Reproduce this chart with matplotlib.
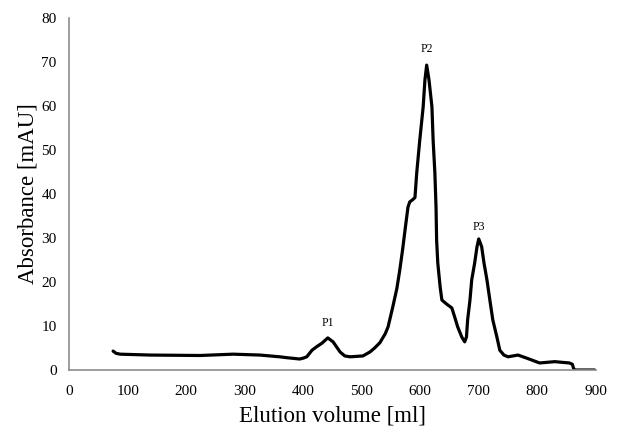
import matplotlib
matplotlib.use("Agg")
import matplotlib.pyplot as plt

# Chromatogram
volume = [75, 80, 87, 138, 224, 280, 326, 360, 372, 394, 400, 406, 415, 423, 432,
          442, 451, 463, 471, 480, 502, 514, 522, 531, 540, 545, 553, 560, 565, 570,
          574, 579, 582, 586, 591, 594, 599, 605, 608, 611, 615, 620, 622, 625, 627,
          628, 630, 634, 637, 645, 654, 659, 664, 671, 676, 679, 681, 685, 688, 693,
          697, 700, 705, 709, 714, 719, 724, 731, 736, 743, 750, 767, 782, 804, 830,
          838, 855, 860, 862, 864, 898]
absorbance = [4.3, 3.8, 3.6, 3.4, 3.3, 3.6, 3.4, 3.0, 2.8, 2.5, 2.7, 3.0, 4.5, 5.3, 6.1,
              7.3, 6.4, 4.1, 3.2, 3.0, 3.2, 4.1, 5.0, 6.2, 8.2, 9.8, 14.3, 18.5, 22.7, 27.5,
              31.8, 37.0, 38.2, 38.6, 39.2, 44.8, 52.0, 59.8, 65.9, 69.3, 65.9, 59.8, 52.3, 44.8, 37.0,
              29.5, 24.3, 18.9, 15.9, 15.0, 14.1, 12.0, 9.8, 7.5, 6.4, 7.5, 11.4, 15.9, 20.5, 24.3,
              28.0, 29.8, 28.0, 24.3, 20.5, 15.9, 11.4, 7.5, 4.5, 3.4, 3.0, 3.4, 2.7, 1.6, 1.9,
              1.8, 1.6, 1.3, 0.4, 0.0, 0.0]

peak_names = ["P1", "P2", "P3"]
peak_x = [442, 611, 700]
peak_y = [10.7, 73.0, 32.5]

plt.rcParams['font.family'] = ['Liberation Serif', 'DejaVu Serif']

fig = plt.figure(figsize=(6.18, 4.29), dpi=100)
ax = fig.add_axes([0.112, 0.1375, 0.852, 0.8205])

ax.plot(volume, absorbance, color='black', linewidth=2.3,
        solid_capstyle='round', solid_joinstyle='round')

for name, x, y in zip(peak_names, peak_x, peak_y):
    ax.text(x, y, name, ha='center', va='center', fontsize=8.5)

ax.set_xlim(0, 900)
ax.set_ylim(0, 80)
ax.set_xticks(range(0, 901, 100))
ax.set_yticks(range(0, 81, 10))
ax.tick_params(length=0, labelsize=11)
ax.tick_params(axis='x', pad=11)
ax.tick_params(axis='y', pad=9)
ax.spines['top'].set_visible(False)
ax.spines['right'].set_visible(False)
ax.spines['left'].set_color('#8c8c8c')
ax.spines['bottom'].set_color('#8c8c8c')
ax.spines['left'].set_linewidth(1.2)
ax.spines['bottom'].set_linewidth(1.2)

ax.set_xlabel('Elution volume [ml]', fontsize=16.5, labelpad=5)
ax.set_ylabel('Absorbance [mAU]', fontsize=16.5, labelpad=2)

fig.savefig('out.png', dpi=100)
